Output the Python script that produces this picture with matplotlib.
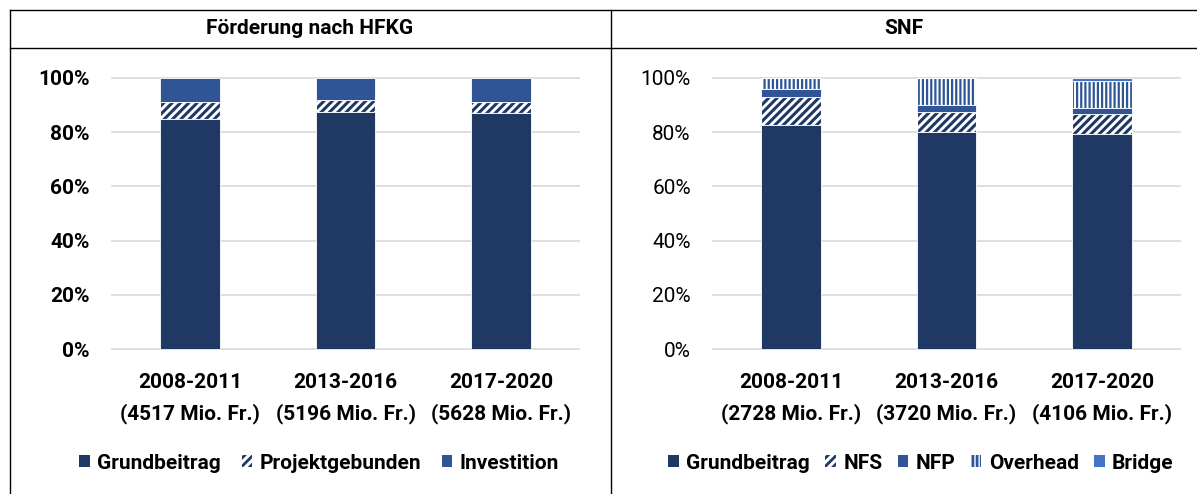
import matplotlib
matplotlib.use("Agg")
import matplotlib.pyplot as plt
from matplotlib.lines import Line2D
from matplotlib.patches import Patch
from matplotlib.ticker import FuncFormatter
import numpy as np

# ---------------- data ----------------
periods = ["2008-2011", "2013-2016", "2017-2020"]
hfkg_totals = [4517, 5196, 5628]
snf_totals = [2728, 3720, 4106]

hfkg_grund = [84.8, 87.5, 87.0]
hfkg_projekt = [6.2, 4.4, 4.2]
hfkg_invest = [9.0, 8.1, 8.8]

snf_grund = [82.6, 79.9, 79.2]
snf_nfs = [10.2, 7.3, 7.3]
snf_nfp = [3.2, 2.9, 2.4]
snf_overhead = [4.0, 9.9, 9.8]
snf_bridge = [0.0, 0.0, 1.3]

hfkg_title = "Förderung nach HFKG"
snf_title = "SNF"
hfkg_legend = ["Grundbeitrag", "Projektgebunden", "Investition"]
snf_legend = ["Grundbeitrag", "NFS", "NFP", "Overhead", "Bridge"]
yticks = [0, 0.2, 0.4, 0.6, 0.8, 1.0]

# ---------------- style ----------------
plt.rcParams['font.family'] = ['Roboto', 'DejaVu Sans']
plt.rcParams['hatch.linewidth'] = 2.0
NAVY = "#203864"
MID = "#2F5597"
BRIDGE = "#4472C4"
GRID = "#D9D9D9"
FS = 15

W, H = 1197, 494
fig = plt.figure(figsize=(W / 100, H / 100), dpi=100)


def px_axes(x0, x1, ytop, ybot):
    return fig.add_axes([x0 / W, 1 - ybot / H, (x1 - x0) / W, (ybot - ytop) / H])


def hline(x0, x1, y):
    fig.add_artist(Line2D([x0 / W, x1 / W], [1 - y / H, 1 - y / H], color="black",
                          lw=1.0, transform=fig.transFigure))


def vline(x, y0, y1):
    fig.add_artist(Line2D([x / W, x / W], [1 - y0 / H, 1 - y1 / H], color="black",
                          lw=1.0, transform=fig.transFigure))


# table borders
hline(10, W + 5, 10)
hline(10, W + 5, 48)
vline(10, 10, H + 5)
vline(611, 10, H + 5)
fig.text(310 / W, 1 - 29 / H, hfkg_title, ha="center", va="center", fontsize=FS, fontweight="bold")
fig.text(904 / W, 1 - 29 / H, snf_title, ha="center", va="center", fontsize=FS, fontweight="bold")

BW = 0.385
x = np.arange(len(periods))


def stack(ax, segments):
    bottom = np.zeros(len(periods))
    for vals, face, hatch, hcol, hlw in segments:
        v = np.array(vals) / 100.0
        if hatch:
            with plt.rc_context({'hatch.linewidth': hlw}):
                ax.bar(x, v, BW, bottom=bottom, color="white", edgecolor=hcol, hatch=hatch,
                       linewidth=0, zorder=2)
            ax.bar(x, v, BW, bottom=bottom, fill=False, edgecolor="white", linewidth=0.8, zorder=3)
        else:
            ax.bar(x, v, BW, bottom=bottom, color=face, edgecolor="white", linewidth=0.6, zorder=4)
        bottom = bottom + v


def style_axes(ax, totals, bold_ticks):
    ax.set_xlim(-0.5, 2.5)
    ax.set_ylim(0, 1)
    ax.set_yticks(yticks)
    ax.yaxis.set_major_formatter(FuncFormatter(lambda v, p: f"{v * 100:.0f}%"))
    ax.grid(axis="y", color=GRID, lw=1.2, zorder=0)
    ax.set_axisbelow(True)
    for s in ax.spines.values():
        s.set_visible(False)
    ax.tick_params(axis="both", length=0)
    ax.tick_params(axis="y", pad=16, labelsize=FS)
    ax.tick_params(axis="x", pad=17, labelsize=FS)
    ax.set_xticks(x)
    ax.set_xticklabels([f"{p}\n({t} Mio. Fr.)" for p, t in zip(periods, totals)],
                       fontweight="bold", linespacing=1.7)
    for lab in ax.get_yticklabels():
        lab.set_fontweight("bold" if bold_ticks else "normal")
    for yl in ax.get_ygridlines():
        yl.set_clip_on(False)


# left chart
axL = px_axes(112, 579, 77.7, 349.3)
stack(axL, [(hfkg_grund, NAVY, None, None, 0),
            (hfkg_projekt, None, "////", NAVY, 2.2),
            (hfkg_invest, MID, None, None, 0)])
style_axes(axL, hfkg_totals, True)

# right chart
axR = px_axes(713, 1180, 77.7, 349.3)
stack(axR, [(snf_grund, NAVY, None, None, 0),
            (snf_nfs, None, "////", NAVY, 2.2),
            (snf_nfp, MID, None, None, 0),
            (snf_overhead, None, "||||", MID, 1.6),
            (snf_bridge, BRIDGE, None, None, 0)])
style_axes(axR, snf_totals, False)


def handles(specs):
    out = []
    for face, hatch, hcol in specs:
        if hatch:
            with plt.rc_context({'hatch.linewidth': 1.6}):
                out.append(Patch(facecolor="white", edgecolor=hcol, hatch=hatch, linewidth=0))
        else:
            out.append(Patch(facecolor=face, edgecolor="none"))
    return out


legL = fig.legend(handles([(NAVY, None, None), (None, "////", NAVY), (MID, None, None)]),
                  hfkg_legend, loc="center", bbox_to_anchor=(319 / W, 1 - 463 / H), ncol=3,
                  frameon=False, prop={"weight": "bold", "size": FS},
                  handlelength=0.5, handleheight=0.5, handletextpad=0.35, columnspacing=1.0)
legR = fig.legend(handles([(NAVY, None, None), (None, "////", NAVY), (MID, None, None),
                           (None, "||||", MID), (BRIDGE, None, None)]),
                  snf_legend, loc="center", bbox_to_anchor=(921 / W, 1 - 463 / H), ncol=5,
                  frameon=False, prop={"weight": "bold", "size": FS},
                  handlelength=0.5, handleheight=0.5, handletextpad=0.35, columnspacing=0.75)

fig.savefig("out.png", dpi=100)
